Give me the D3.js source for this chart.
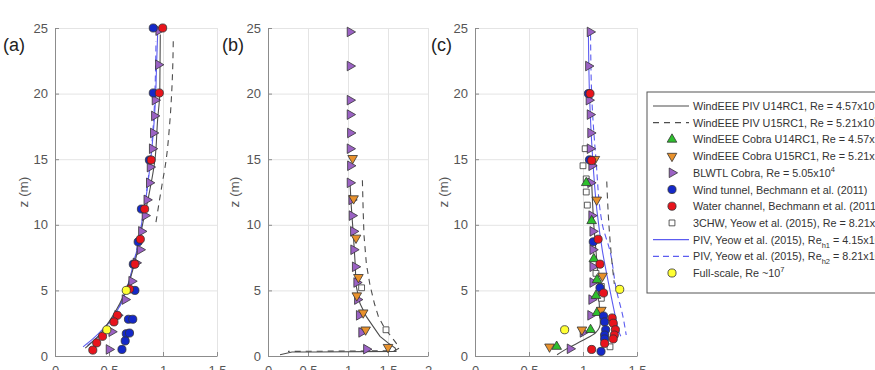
<!DOCTYPE html>
<html>
<head>
<meta charset="utf-8">
<script src="https://cdn.jsdelivr.net/npm/d3@7"></script>
<style>
  body { margin: 0; background: #fff; }
  svg { display: block; font-family: "Liberation Sans", Arial, sans-serif; }
  .tick text { fill: #555; font-size: 13px; }
  .axis path, .axis line { stroke: #8c8c8c; }
  .grid line { stroke: #e4e4e4; }
  .grid path { display: none; }
</style>
</head>
<body>
<div id="chart"></div>
<script>
const width = 875, height = 370;

const yTicks = [0, 5, 10, 15, 20, 25];

// ---- panel (a) ----
const aWindTunnel = [[0.91,25],[0.91,20.05],[0.874,14.94],[0.80,11.2],[0.77,8.7],[0.725,7.0],[0.74,5.0],[0.68,2.8],[0.72,2.8],[0.66,1.7],[0.69,1.75],[0.65,1.15],[0.62,0.5]];
const aWaterChannel = [[0.997,25],[0.966,20.05],[0.89,14.94],[0.83,11.2],[0.79,8.9],[0.74,7.0],[0.69,5.1],[0.577,3.1],[0.546,2.6],[0.44,1.5],[0.386,1.0],[0.35,0.45]];
const aFullScale = [[0.66,5.0],[0.48,2.0]];
const aBlwtl = [[0.96,24.8],[0.957,22.2],[0.926,19.5],[0.92,18.3],[0.91,17.0],[0.90,15.8],[0.88,14.4],[0.873,13.2],[0.85,11.9],[0.833,10.7],[0.80,9.5],[0.787,8.1],[0.75,7.1],[0.71,5.7],[0.648,4.3],[0.58,3.1],[0.525,1.85],[0.50,0.5]];
const aPivU14 = [[0.28,0.6],[0.4,1.5],[0.5,2.6],[0.6,4],[0.68,5.5],[0.75,7.5],[0.81,10],[0.87,12.3],[0.926,15],[0.95,18],[0.97,20],[0.975,24.5]];
const aPivU15 = [[0.935,10.2],[0.96,11.5],[0.99,13],[1.03,15],[1.06,17.5],[1.08,20],[1.09,22],[1.095,24]];
const aPivH1 = [[0.26,0.7],[0.35,1.3],[0.45,2.1],[0.55,3.1],[0.62,4.2],[0.67,5.3],[0.72,6.8],[0.77,8.5],[0.81,10.5],[0.85,12.5],[0.88,14.5],[0.91,17],[0.93,19.5],[0.94,22],[0.95,24.5]];
const aPivH2 = [[0.3,0.8],[0.4,1.5],[0.5,2.5],[0.6,3.8],[0.68,5.5],[0.74,7.5],[0.79,9.5],[0.83,11.5],[0.87,14],[0.9,16.5],[0.92,19],[0.93,21.5],[0.935,24]];

// ---- panel (b) ----
const bBlwtl = [[1.025,24.7],[1.025,22.1],[1.025,19.5],[1.025,18.4],[1.03,17.0],[1.025,15.8],[1.03,14.5],[1.025,13.2],[1.046,11.9],[1.05,10.7],[1.067,9.5],[1.07,8.1],[1.09,6.8],[1.108,5.6],[1.117,4.3],[1.14,3.1],[1.17,1.8],[1.23,0.52]];
const bCobraU15 = [[1.058,15.07],[1.07,12.0],[1.1,9.0],[1.13,6.0],[1.11,4.6],[1.19,3.3],[1.22,2.0],[1.5,0.67]];
const b3chw = [[1.17,5.2],[1.475,2.0]];
const bPivU14 = [[1.025,13.2],[1.04,11.5],[1.067,9.2],[1.09,7],[1.1,5.4],[1.15,4],[1.23,3],[1.32,2.2],[1.4,1.5],[1.5,1.0],[1.59,0.6],[1.6,0.35],[0.6,0.3],[0.3,0.3],[0.15,0.1]];
const bPivU15 = [[1.18,13.4],[1.19,11],[1.2,9.2],[1.23,7],[1.275,5.4],[1.33,4],[1.38,3.0],[1.45,2.2],[1.525,1.6],[1.6,1.0],[1.64,0.6],[1.58,0.4],[0.25,0.35]];

// ---- panel (c) ----
const cBlwtl = [[1.065,24.7],[1.05,22.1],[1.055,19.5],[1.065,18.4],[1.07,17.0],[1.065,15.8],[1.08,14.5],[1.07,13.2],[1.08,10.7],[1.09,9.5],[1.09,8.1],[1.09,6.8],[1.09,5.6],[1.08,4.3],[1.07,3.1],[1.0,1.8],[0.88,0.55]];
const cCobraU14 = [[1.03,13.2],[1.08,10.3],[1.10,7.4],[1.13,5.8],[1.12,4.6],[1.13,3.3],[1.07,2.0],[0.756,0.72]];
const cCobraU15 = [[1.11,15.0],[1.127,11.9],[1.18,6.1],[1.17,3.5],[0.99,2.0],[0.69,0.7]];
const cWaterChannel = [[1.065,20],[1.08,14.9],[1.14,8.9],[1.157,7.0],[1.19,4.8],[1.27,2.9],[1.28,2.5],[1.30,2.0],[1.29,1.6],[1.28,1.3],[1.20,0.96],[1.08,0.5]];
const cWindTunnel = [[1.05,20],[1.06,14.95],[1.095,8.7],[1.157,5.2],[1.19,3.05],[1.2,2.6],[1.21,2.0],[1.2,1.6],[1.2,1.3],[1.167,0.35]];
const cFullScale = [[1.34,5.08],[0.83,2.0]];
const c3chw = [[1.02,15.8],[1.0,14.5],[1.03,13.5],[1.03,12.5],[1.04,11.5],[1.12,6.3],[1.17,5.3],[1.17,4.4],[1.25,0.7]];
const cPivH1 = [[1.05,24.7],[1.06,20],[1.09,15],[1.13,11],[1.18,8],[1.25,5],[1.3,3],[1.33,1.9],[1.35,1.5]];
const cPivH2 = [[1.07,24.5],[1.08,20],[1.12,15],[1.18,10],[1.25,8],[1.31,5],[1.37,3],[1.4,1.6]];
const cPivU14 = [[1.08,13.3],[1.1,10],[1.13,7],[1.15,4],[1.16,2.5],[1.12,1.8],[1.0,1.2],[0.86,0.6],[0.76,0.1]];
const cPivU15 = [[1.22,13.3],[1.24,10],[1.27,7],[1.29,5.5]];

// legend entries
const legendLabels = [
  ["WindEEE PIV U14RC1, Re = 4.57x10", "5"],
  ["WindEEE PIV U15RC1, Re = 5.21x10", "5"],
  ["WindEEE Cobra U14RC1, Re = 4.57x10", "5"],
  ["WindEEE Cobra U15RC1, Re = 5.21x10", "5"],
  ["BLWTL Cobra, Re = 5.05x10", "4"],
  ["Wind tunnel, Bechmann et al. (2011)", ""],
  ["Water channel, Bechmann et al. (2011)", ""],
  ["3CHW, Yeow et al. (2015), Re = 8.21x10", "5"],
  ["PIV, Yeow et al. (2015), Re", "h1", " = 4.15x10", "5"],
  ["PIV, Yeow et al. (2015), Re", "h2", " = 8.21x10", "5"],
  ["Full-scale, Re ~10", "7"]
];

// styles per series kind
const styles = {
  pivU14:  { type: "line", color: "#4d4d4d", dash: null },
  pivU15:  { type: "line", color: "#4d4d4d", dash: "6,5" },
  cobraU14:{ type: "mark", shape: "up", fill: "#2dbf2d" },
  cobraU15:{ type: "mark", shape: "down", fill: "#e8912c" },
  blwtl:   { type: "mark", shape: "right", fill: "#9b62c4" },
  wind:    { type: "mark", shape: "circle", fill: "#1428c8" },
  water:   { type: "mark", shape: "circle", fill: "#e8141c" },
  chw:     { type: "mark", shape: "square", fill: "#ffffff" },
  pivH1:   { type: "line", color: "#5c5cf0", dash: null },
  pivH2:   { type: "line", color: "#5c5cf0", dash: "6,4" },
  full:    { type: "mark", shape: "circle", fill: "#ffff33" }
};
const legendKeys = ["pivU14","pivU15","cobraU14","cobraU15","blwtl","wind","water","chw","pivH1","pivH2","full"];

const plotTop = 28, plotBottom = 356;
const panels = [
  { label: "(a)", left: 55, right: 217, xMax: 1.5, xTicks: [0,0.5,1,1.5], labelX: 3, zX: 28,
    series: [["pivH2", aPivH2],["pivH1", aPivH1],["pivU15", aPivU15],["pivU14", aPivU14],
             ["blwtl", aBlwtl],["wind", aWindTunnel],["water", aWaterChannel],["full", aFullScale]] },
  { label: "(b)", left: 268, right: 428, xMax: 2, xTicks: [0,0.5,1,1.5,2], labelX: 222, zX: 239,
    series: [["pivU14", bPivU14],["pivU15", bPivU15],["blwtl", bBlwtl],["cobraU15", bCobraU15],["chw", b3chw]] },
  { label: "(c)", left: 475, right: 637, xMax: 1.5, xTicks: [0,0.5,1,1.5], labelX: 431, zX: 448,
    series: [["pivH1", cPivH1],["pivH2", cPivH2],["pivU14", cPivU14],["pivU15", cPivU15],
             ["chw", c3chw],["blwtl", cBlwtl],["cobraU14", cCobraU14],["cobraU15", cCobraU15],
             ["wind", cWindTunnel],["water", cWaterChannel],["full", cFullScale]] }
];

const svg = d3.select("#chart")
  .append("svg")
  .attr("width", width)
  .attr("height", height);

const symbolFor = shape => {
  if (shape === "circle") return d3.symbol(d3.symbolCircle, 52);
  if (shape === "square") return d3.symbol(d3.symbolSquare, 34);
  return d3.symbol(d3.symbolTriangle, 40);
};
const rotFor = shape => shape === "down" ? 180 : shape === "right" ? 90 : 0;

const drawMarks = (g, pts, st, x, y) => {
  g.selectAll(null)
    .data(pts)
    .join("path")
    .attr("d", symbolFor(st.shape)())
    .attr("transform", d => `translate(${x(d[0])},${y(d[1])}) rotate(${rotFor(st.shape)})`)
    .attr("fill", st.fill)
    .attr("stroke", "#333")
    .attr("stroke-width", 0.8);
};

panels.forEach(p => {
  const x = d3.scaleLinear().domain([0, p.xMax]).range([p.left, p.right]);
  const y = d3.scaleLinear().domain([0, 25]).range([plotBottom, plotTop]);

  // grid
  svg.append("g")
    .attr("class", "grid")
    .attr("transform", `translate(0,${plotBottom})`)
    .call(d3.axisBottom(x).tickValues(p.xTicks).tickSize(-(plotBottom - plotTop)).tickFormat(""));
  svg.append("g")
    .attr("class", "grid")
    .attr("transform", `translate(${p.left},0)`)
    .call(d3.axisLeft(y).tickValues(yTicks).tickSize(-(p.right - p.left)).tickFormat(""));

  // axes
  svg.append("g")
    .attr("class", "axis")
    .attr("transform", `translate(0,${plotBottom})`)
    .call(d3.axisBottom(x).tickValues(p.xTicks).tickSizeInner(-4).tickSizeOuter(0).tickPadding(10).tickFormat(d3.format("~g")));
  svg.append("g")
    .attr("class", "axis")
    .attr("transform", `translate(${p.left},0)`)
    .call(d3.axisLeft(y).tickValues(yTicks).tickSizeInner(-4).tickSizeOuter(0).tickPadding(7));

  const g = svg.append("g");
  const line = d3.line().x(d => x(d[0])).y(d => y(d[1])).curve(d3.curveMonotoneY);
  const plain = d3.line().x(d => x(d[0])).y(d => y(d[1]));

  p.series.forEach(([key, pts]) => {
    const st = styles[key];
    if (st.type === "line") {
      g.append("path")
        .datum(pts)
        .attr("fill", "none")
        .attr("stroke", st.color)
        .attr("stroke-width", 1.1)
        .attr("stroke-dasharray", st.dash)
        .attr("d", p.label === "(b)" ? plain : line);
    }
  });
  p.series.forEach(([key, pts]) => {
    const st = styles[key];
    if (st.type === "mark") drawMarks(g, pts, st, x, y);
  });

  svg.append("text")
    .text(p.label)
    .attr("x", p.labelX)
    .attr("y", 51)
    .attr("font-size", 18)
    .attr("fill", "#222");

  svg.append("text")
    .text("z (m)")
    .attr("transform", `translate(${p.zX},${(plotTop + plotBottom) / 2}) rotate(-90)`)
    .attr("text-anchor", "middle")
    .attr("font-size", 13.5)
    .attr("fill", "#555");
});

// legend
const legX = 647, legY = 92, rowH = 16.7;
const leg = svg.append("g");
leg.append("rect")
  .attr("x", legX).attr("y", legY)
  .attr("width", 260).attr("height", 201)
  .attr("fill", "#fff")
  .attr("stroke", "#555")
  .attr("stroke-width", 1);

legendKeys.forEach((key, i) => {
  const st = styles[key];
  const cy = legY + 14 + i * rowH;
  if (st.type === "line") {
    leg.append("line")
      .attr("x1", legX + 6).attr("x2", legX + 42)
      .attr("y1", cy).attr("y2", cy)
      .attr("stroke", st.color)
      .attr("stroke-width", 1.2)
      .attr("stroke-dasharray", st.dash);
  } else {
    const ix = d3.scaleIdentity();
    drawMarks(leg, [[legX + 25, cy]], st, ix, ix);
  }
  const parts = legendLabels[i];
  const t = leg.append("text")
    .attr("x", legX + 46)
    .attr("y", cy + 4)
    .attr("font-size", 10.8)
    .attr("fill", "#333");
  if (parts.length === 2) {
    t.append("tspan").text(parts[0]);
    if (parts[1]) t.append("tspan").text(parts[1]).attr("dy", -5).attr("font-size", 7.5);
  } else {
    t.append("tspan").text(parts[0]);
    t.append("tspan").text(parts[1]).attr("dy", 4).attr("font-size", 7.5);
    t.append("tspan").text(parts[2]).attr("dy", -4);
    t.append("tspan").text(parts[3]).attr("dy", -5).attr("font-size", 7.5);
  }
});
</script>
</body>
</html>
